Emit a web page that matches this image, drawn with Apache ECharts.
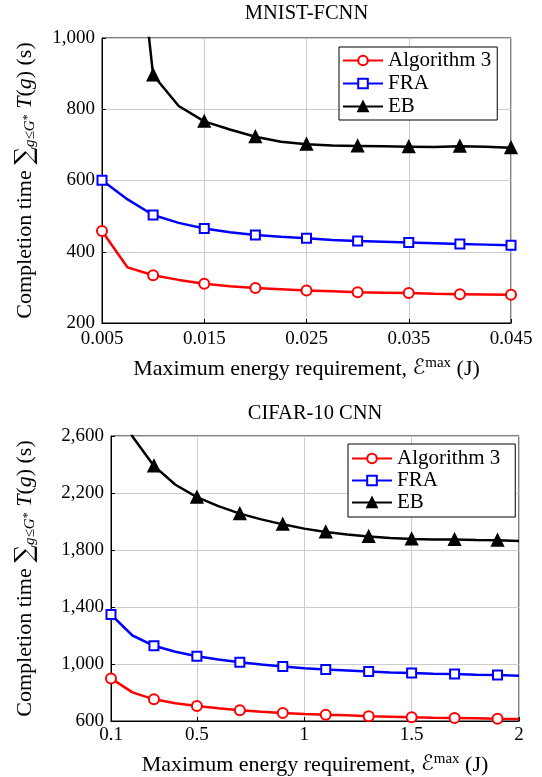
<!DOCTYPE html>
<html>
<head>
<meta charset="utf-8">
<script src="https://cdn.jsdelivr.net/npm/echarts@6/dist/echarts.min.js"></script>
<style>
html,body{margin:0;padding:0;background:#fff;}
#c{width:542px;height:777px;}
</style>
</head>
<body>
<div id="c"></div>
<script>
// ---- data ----
const seriesNames = ['Algorithm 3', 'FRA', 'EB'];

const mnistE = [0.005, 0.0075, 0.01, 0.0125, 0.015, 0.0175, 0.02, 0.0225, 0.025, 0.0275, 0.03, 0.0325, 0.035, 0.0375, 0.04, 0.0425, 0.045];
const mnistAlg3 = [458, 356, 334, 321, 310, 303, 298, 295, 291, 289, 286, 285, 284, 282, 281, 280, 279];
const mnistFRA = [601, 547, 503, 481, 465, 455, 447, 442, 438, 433, 430, 428, 426, 424, 422, 420, 418];
const mnistEB = [null, 1550, 896, 809, 766, 743, 723, 709, 702, 698, 697, 696, 695, 694, 696, 695, 692];

const cifarE = [0.1, 0.2, 0.3, 0.4, 0.5, 0.6, 0.7, 0.8, 0.9, 1.0, 1.1, 1.2, 1.3, 1.4, 1.5, 1.6, 1.7, 1.8, 1.9, 2.0];
const cifarAlg3 = [899, 801, 752, 724, 705, 689, 675, 665, 656, 649, 644, 640, 633, 630, 626, 623, 621, 619, 616, 614];
const cifarFRA = [1347, 1200, 1128, 1086, 1055, 1032, 1013, 997, 983, 971, 962, 955, 948, 941, 936, 932, 929, 925, 922, 918];
const cifarEB = [3000, 2596, 2390, 2258, 2171, 2108, 2055, 2015, 1980, 1950, 1926, 1908, 1894, 1884, 1877, 1873, 1873, 1870, 1868, 1863];

const mnistXTicks = [0.005, 0.015, 0.025, 0.035, 0.045];
const mnistYTicks = [200, 400, 600, 800, 1000];
const cifarXTicks = [0.1, 0.5, 1, 1.5, 2];
const cifarYTicks = [600, 1000, 1400, 1800, 2200, 2600];

const titles = ['MNIST-FCNN', 'CIFAR-10 CNN'];

// ---- styling ----
const FONT = "'Liberation Serif', 'DejaVu Serif', serif";
const TICK_FS = 19;
const NAME_FS = 22;
const colors = ['#ff0000', '#0000ff', '#000000'];
const symbols = ['emptyCircle', 'emptyRect', 'triangle'];
const symbolSizes = [10, 9, 11];

const xName = 'Maximum energy requirement, {e|ℰ}{sup|max} (J)';
const yName = 'Completion time {sum|∑}{sub|g≤G}{subsup|*} {it|T}({it|g}) (s)';
const richX = {
  e: {fontFamily: "'DejaVu Sans', 'DejaVu Serif', serif", fontSize: 21, color: '#000'},
  sup: {fontFamily: FONT, fontSize: 15, color: '#000', padding: [0, 0, 11, 0]}
};
const richY = {
  sum: {fontFamily: "'DejaVu Serif', serif", fontSize: 25, color: '#000'},
  sub: {fontFamily: FONT, fontStyle: 'italic', fontSize: 15, color: '#000', padding: [11, 0, 0, 0]},
  subsup: {fontFamily: FONT, fontSize: 12, color: '#000', padding: [5, 0, 0, 0]},
  it: {fontFamily: FONT, fontStyle: 'italic', fontSize: NAME_FS, color: '#000'}
};

function xAxisDef(gi, ticks, nameGap, margin) {
  return {
    type: 'value', gridIndex: gi,
    min: ticks[0], max: ticks[ticks.length - 1],
    axisLine: {show: true, onZero: false, lineStyle: {color: '#000', width: 1}},
    axisTick: {show: true, inside: true, length: 4, customValues: ticks, lineStyle: {color: '#000'}},
    axisLabel: {customValues: ticks, color: '#000', fontSize: TICK_FS, fontFamily: FONT, margin: margin,
      formatter: v => String(v)},
    splitLine: {show: true, customValues: ticks, lineStyle: {color: '#cccccc', width: 1}},
    name: xName, nameLocation: 'middle', nameGap: nameGap,
    nameTextStyle: {color: '#000', fontSize: NAME_FS, fontFamily: FONT, rich: richX}
  };
}
function yAxisDef(gi, ticks, nameGap) {
  return {
    type: 'value', gridIndex: gi,
    min: ticks[0], max: ticks[ticks.length - 1],
    axisLine: {show: true, onZero: false, lineStyle: {color: '#000', width: 1}},
    axisTick: {show: true, inside: true, length: 4, customValues: ticks, lineStyle: {color: '#000'}},
    axisLabel: {customValues: ticks, color: '#000', fontSize: TICK_FS, fontFamily: FONT, margin: 7,
      formatter: v => v.toLocaleString('en-US')},
    splitLine: {show: true, customValues: ticks, lineStyle: {color: '#cccccc', width: 1}},
    name: yName, nameLocation: 'middle', nameGap: nameGap, nameRotate: 90,
    nameTextStyle: {color: '#000', fontSize: NAME_FS, fontFamily: FONT, rich: richY}
  };
}
function mkSeries(k, xs, ys, axisIdx) {
  const data = [];
  xs.forEach((x, i) => {
    if (ys[i] == null) return;
    data.push({value: [x, ys[i]], symbol: i % 2 === 0 ? symbols[k] : 'none'});
  });
  return {
    type: 'line', name: seriesNames[k], xAxisIndex: axisIdx, yAxisIndex: axisIdx,
    data: data, symbol: symbols[k], symbolSize: symbolSizes[k], showAllSymbol: true,
    clip: true, smooth: false,
    lineStyle: {color: colors[k], width: 2.5},
    itemStyle: {color: colors[k], borderColor: colors[k], borderWidth: 2},
    emphasis: {disabled: true}
  };
}
function legendDef(left, top, padding, itemGap) {
  return {
    data: seriesNames, orient: 'vertical', left: left, top: top,
    backgroundColor: '#fff', borderColor: '#000', borderWidth: 1, borderRadius: 0,
    padding: padding, itemGap: itemGap, itemWidth: 40, itemHeight: 12,
    selectedMode: false,
    textStyle: {color: '#000', fontSize: 21, fontFamily: FONT}
  };
}

const chart = echarts.init(document.getElementById('c'), null, {renderer: 'canvas'});
const option = {
  animation: false,
  backgroundColor: '#fff',
  textStyle: {fontFamily: FONT},
  title: [
    {text: titles[0], left: 306.5, top: 3, padding: 0, textAlign: 'center',
      textStyle: {color: '#000', fontSize: 20.5, fontWeight: 'normal', fontFamily: FONT}},
    {text: titles[1], left: 315, top: 403, padding: 0, textAlign: 'center',
      textStyle: {color: '#000', fontSize: 20.5, fontWeight: 'normal', fontFamily: FONT}}
  ],
  legend: [
    legendDef(339, 47, [3, 6, 3, 3], 2),
    legendDef(348, 444, [4, 15, 4, 3], 1)
  ],
  grid: [
    {left: 102, top: 38, width: 409, height: 285, show: true, borderColor: '#000', borderWidth: 1, containLabel: false},
    {left: 111, top: 436, width: 408, height: 285, show: true, borderColor: '#000', borderWidth: 1, containLabel: false}
  ],
  xAxis: [xAxisDef(0, mnistXTicks, 33, 7), xAxisDef(1, cifarXTicks, 31, 5)],
  yAxis: [yAxisDef(0, mnistYTicks, 64), yAxisDef(1, cifarYTicks, 73)],
  series: [
    mkSeries(0, mnistE, mnistAlg3, 0),
    mkSeries(1, mnistE, mnistFRA, 0),
    mkSeries(2, mnistE, mnistEB, 0),
    mkSeries(0, cifarE, cifarAlg3, 1),
    mkSeries(1, cifarE, cifarFRA, 1),
    mkSeries(2, cifarE, cifarEB, 1)
  ]
};
chart.setOption(option);
</script>
</body>
</html>
